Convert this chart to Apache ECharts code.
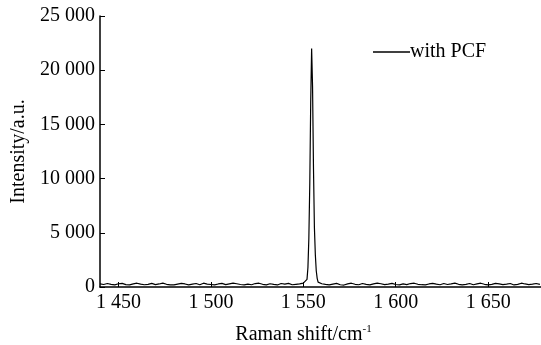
<!DOCTYPE html>
<html>
<head>
<meta charset="utf-8">
<script src="https://cdn.jsdelivr.net/npm/echarts@6/dist/echarts.min.js"></script>
<style>
  html, body { margin: 0; padding: 0; background: #fff; }
  #chart { width: 541px; height: 345px; }
</style>
</head>
<body>
<div id="chart"></div>
<script>
// Raman shift (cm-1) and intensity
const ramanShift = [
  1440, 1442, 1444, 1446, 1448, 1450, 1452, 1454, 1456, 1458,
  1460, 1462, 1464, 1466, 1468, 1470, 1472, 1474, 1476, 1478,
  1480, 1482, 1484, 1486, 1488, 1490, 1492, 1494, 1496, 1498,
  1500, 1502, 1504, 1506, 1508, 1510, 1512, 1514, 1516, 1518,
  1520, 1522, 1524, 1526, 1528, 1530, 1532, 1534, 1536, 1538,
  1540, 1542, 1544, 1546, 1548, 1550,
  1551, 1552, 1552.5, 1553, 1553.5, 1554, 1554.5, 1555, 1555.5, 1556, 1556.5, 1557, 1557.5, 1558,
  1560, 1562, 1564, 1566, 1568, 1570, 1572, 1574, 1576, 1578,
  1580, 1582, 1584, 1586, 1588, 1590, 1592, 1594, 1596, 1598,
  1600, 1602, 1604, 1606, 1608, 1610, 1612, 1614, 1616, 1618,
  1620, 1622, 1624, 1626, 1628, 1630, 1632, 1634, 1636, 1638,
  1640, 1642, 1644, 1646, 1648, 1650, 1652, 1654, 1656, 1658,
  1660, 1662, 1664, 1666, 1668, 1670, 1672, 1674, 1676, 1678
];
const intensity = [
  280, 230, 320, 250, 200, 300, 340, 220, 190, 290,
  350, 260, 210, 240, 330, 220, 280, 360, 250, 200,
  190, 270, 340, 280, 200, 260, 320, 210, 350, 270,
  230, 190, 280, 330, 220, 290, 360, 300, 230, 200,
  270, 210, 320, 350, 250, 200, 300, 240, 190, 320,
  260, 340, 210, 250, 290, 350,
  400, 700, 1800, 4500, 9500, 17000, 22000, 18500, 11000, 5500, 3000, 1500, 800, 450,
  300, 240, 190, 270, 330, 210, 180, 290, 350, 250,
  210, 320, 240, 190, 290, 360, 300, 220, 260, 340,
  230, 190, 290, 220, 320, 350, 250, 210, 190, 280,
  340, 260, 210, 320, 230, 290, 360, 250, 190, 240,
  320, 210, 290, 350, 250, 190, 240, 330, 280, 220,
  260, 320, 190, 240, 350, 280, 220, 260, 320, 240
];
const xTicks = [1450, 1500, 1550, 1600, 1650];
const xTickLabels = ['1 450', '1 500', '1 550', '1 600', '1 650'];
const yTickLabels = ['0', '5 000', '10 000', '15 000', '20 000', '25 000'];

const chart = echarts.init(document.getElementById('chart'));
const font = 'Liberation Serif';

chart.setOption({
  backgroundColor: '#fff',
  animation: false,
  grid: { left: 100, right: 0, top: 16, bottom: 58, outerBoundsMode: 'none' },
  legend: {
    left: 373,
    top: 42,
    padding: 0,
    icon: 'rect',
    itemWidth: 37,
    itemHeight: 1.5,
    textStyle: { fontFamily: font, fontSize: 20, color: '#000', padding: [0, 0, 0, -5] },
    data: ['with PCF']
  },
  xAxis: {
    type: 'value',
    min: 1440,
    max: 1678.6,
    name: 'Raman shift/cm{sup|-1}',
    nameLocation: 'middle',
    nameGap: 37,
    nameTextStyle: {
      fontFamily: font, fontSize: 20, color: '#000', padding: [0, 34, 0, 0],
      rich: { sup: { fontFamily: font, fontSize: 11, color: '#000', verticalAlign: 'top', padding: [0, 0, 10, 0] } }
    },
    axisLine: { lineStyle: { color: '#000', width: 1.5 } },
    axisTick: { inside: true, length: 5, customValues: xTicks, lineStyle: { color: '#000' } },
    axisLabel: {
      customValues: xTicks,
      margin: 6,
      fontFamily: font, fontSize: 20, color: '#000',
      formatter: v => xTickLabels[xTicks.indexOf(v)]
    },
    splitLine: { show: false }
  },
  yAxis: {
    type: 'value',
    min: 0,
    max: 25000,
    interval: 5000,
    name: 'Intensity/a.u.',
    nameLocation: 'middle',
    nameGap: 71,
    nameTextStyle: { fontFamily: font, fontSize: 20, color: '#000' },
    axisLine: { show: true, lineStyle: { color: '#000', width: 1.5 } },
    axisTick: { show: true, inside: true, length: 5, lineStyle: { color: '#000' } },
    axisLabel: {
      margin: 5,
      fontFamily: font, fontSize: 20, color: '#000',
      formatter: v => yTickLabels[Math.round(v / 5000)]
    },
    splitLine: { show: false }
  },
  series: [{
    name: 'with PCF',
    type: 'line',
    data: ramanShift.map((x, i) => [x, intensity[i]]),
    showSymbol: false,
    smooth: false,
    itemStyle: { color: '#000' },
    lineStyle: { color: '#000', width: 1.2 }
  }]
});
</script>
</body>
</html>
